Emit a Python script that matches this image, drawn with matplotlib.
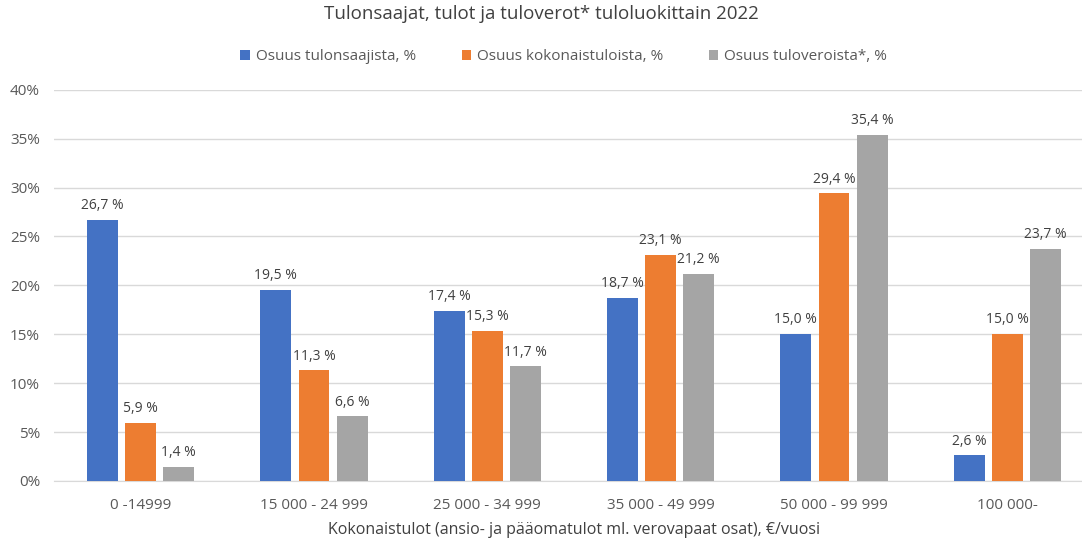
import numpy as np
import matplotlib.pyplot as plt

plt.rcParams['font.family'] = ['Open Sans', 'DejaVu Sans']

# Data
categories = ['0 -14999', '15 000 - 24 999', '25 000 - 34 999',
              '35 000 - 49 999', '50 000 - 99 999', '100 000-']
series_names = ['Osuus tulonsaajista, %', 'Osuus kokonaistuloista, %',
                'Osuus tuloveroista*, %']
saajat = [26.7, 19.5, 17.4, 18.7, 15.0, 2.6]
tulot = [5.9, 11.3, 15.3, 23.1, 29.4, 15.0]
verot = [1.4, 6.6, 11.7, 21.2, 35.4, 23.7]
colors = ['#4472C4', '#ED7D31', '#A5A5A5']

fig = plt.figure(figsize=(10.82, 5.44), dpi=100)
# plot area runs a bit past the right edge, like the cropped original
ax = fig.add_axes([0.0499, 0.116, 0.9612, 0.719])

x = np.arange(len(categories))
width = 0.178
step = 0.22
txt_col = '#404040'

for i, (vals, col, name) in enumerate(zip([saajat, tulot, verot], colors, series_names)):
    pos = x + (i - 1) * step
    bars = ax.bar(pos, vals, width, color=col, label=name, zorder=3)
    for b, v in zip(bars, vals):
        ax.text(b.get_x() + b.get_width() / 2, v + 0.7, f'{v:.1f} %'.replace('.', ','),
                ha='center', va='bottom', fontsize=10, color=txt_col)

ax.set_xlim(-0.5, len(categories) - 0.5)
ax.set_ylim(0, 40)
ax.set_yticks(range(0, 41, 5))
ax.set_yticklabels([f'{t}%' for t in range(0, 41, 5)])
ax.set_xticks(x)
ax.set_xticklabels(categories)
ax.tick_params(axis='both', length=0, labelsize=11, colors='#595959')
ax.tick_params(axis='x', pad=12)
ax.tick_params(axis='y', pad=10)
ax.grid(axis='y', color='#d9d9d9', linewidth=1, zorder=0)
for s in ['top', 'right', 'left']:
    ax.spines[s].set_visible(False)
ax.spines['bottom'].set_color('#d9d9d9')

ax.set_xlabel('Kokonaistulot (ansio- ja pääomatulot ml. verovapaat osat), €/vuosi',
              fontsize=11.5, color=txt_col, labelpad=7)

fig.suptitle('Tulonsaajat, tulot ja tuloverot* tuloluokittain 2022',
             fontsize=13.5, color=txt_col, y=0.99)
fig.legend(loc='upper center', bbox_to_anchor=(0.521, 0.935), ncol=3, frameon=False,
           fontsize=11, handlelength=0.6, handleheight=0.6, handletextpad=0.4,
           columnspacing=3.0, labelcolor='#595959')

fig.savefig('out.png', dpi=100)
